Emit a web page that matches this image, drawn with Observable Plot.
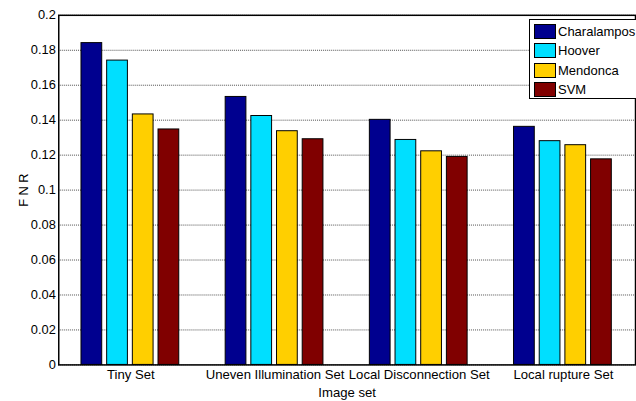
<!DOCTYPE html>
<html>
<head>
<meta charset="utf-8">
<script src="https://cdn.jsdelivr.net/npm/d3@7"></script>
<script src="https://cdn.jsdelivr.net/npm/@observablehq/plot@0.6"></script>
<style>
  html, body { margin: 0; padding: 0; background: #fff; overflow: hidden; }
  #wrap { position: relative; width: 636px; height: 401px; overflow: hidden; font-family: "Liberation Sans", Arial, sans-serif; }
  #legend { position: absolute; left: 529px; top: 19px; width: 120px; height: 80px; border: 1px solid #000; background: #fff; box-sizing: border-box; font-size: 13px; color: #000; }
  .row { position: absolute; left: 4px; height: 16px; display: flex; align-items: center; }
  .sw { width: 22px; height: 15px; border: 1px solid #000; box-sizing: border-box; margin-right: 2px; }
</style>
</head>
<body>
<div id="wrap"></div>
<script>
const sets = ["Tiny Set", "Uneven Illumination Set", "Local Disconnection Set", "Local rupture Set"];
const methods = ["Charalampos", "Hoover", "Mendonca", "SVM"];
const colors = ["#00008F", "#00DFFF", "#FFCF00", "#800000"];
const charalampos = [0.1841, 0.1533, 0.1402, 0.1362];
const hoover = [0.1741, 0.1424, 0.1287, 0.1280];
const mendonca = [0.1433, 0.1337, 0.1222, 0.1257];
const svm = [0.1347, 0.1291, 0.1190, 0.1176];
const yTicks = [0, 0.02, 0.04, 0.06, 0.08, 0.1, 0.12, 0.14, 0.16, 0.18, 0.2];

const series = [charalampos, hoover, mendonca, svm];
const data = [];
sets.forEach((s, i) => methods.forEach((m, j) => data.push({set: s, method: m, value: series[j][i]})));

const font = '"Liberation Sans", Arial, sans-serif';
const chart = Plot.plot({
  width: 644,
  height: 401,
  marginLeft: 59,
  marginRight: 1,
  marginTop: 15,
  marginBottom: 32,
  facet: {marginTop: 0, marginBottom: 0, marginLeft: 0, marginRight: 0},
  style: {fontFamily: font, fontSize: "13px", color: "#000", background: "#fff", overflow: "visible"},
  fx: {domain: sets, padding: 0, label: null},
  x: {domain: methods, paddingInner: 0.19, paddingOuter: 0.83, axis: null},
  y: {domain: [0, 0.2]},
  color: {domain: methods, range: colors},
  marks: [
    Plot.gridY(yTicks, {stroke: "#000", strokeOpacity: 0.7, strokeDasharray: "1,1"}),
    Plot.barY(data, {fx: "set", x: "method", y: "value", fill: "method", stroke: "#000", strokeWidth: 1}),
    Plot.frame({facet: "super", stroke: "#000", strokeWidth: 1.5}),
    Plot.axisY(yTicks, {tickSize: 0, tickPadding: 3, tickFormat: d => String(d), label: "F N R", labelAnchor: "center", labelArrow: "none", labelOffset: 40, fontSize: 13}),
    Plot.axisFx({anchor: "bottom", tickSize: 0, tickPadding: 5, label: "Image set", labelAnchor: "center", labelArrow: "none", labelOffset: 32, fontSize: 13.3})
  ]
});
document.getElementById("wrap").appendChild(chart);

const legend = document.createElement("div");
legend.id = "legend";
methods.forEach((m, i) => {
  const row = document.createElement("div");
  row.className = "row";
  row.style.top = (3 + i * 19.5) + "px";
  const sw = document.createElement("div");
  sw.className = "sw";
  sw.style.background = colors[i];
  const t = document.createElement("span");
  t.textContent = m;
  row.appendChild(sw);
  row.appendChild(t);
  legend.appendChild(row);
});
document.getElementById("wrap").appendChild(legend);
</script>
</body>
</html>
